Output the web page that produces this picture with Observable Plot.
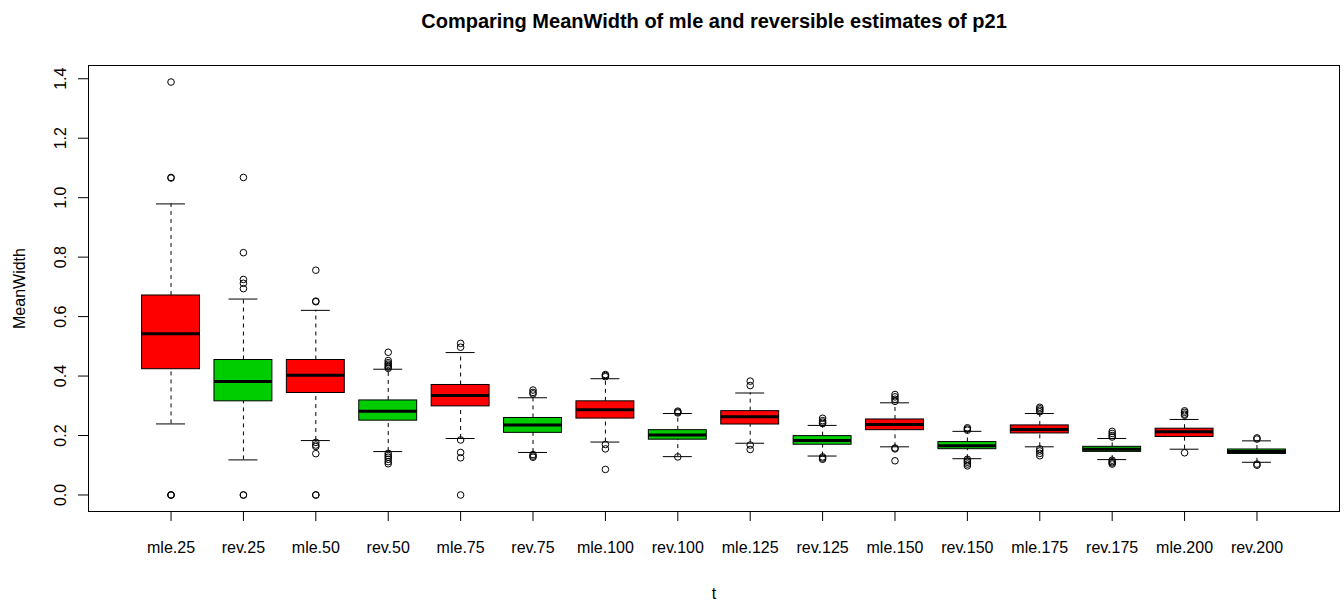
<!DOCTYPE html>
<html>
<head>
<meta charset="utf-8">
<script src="https://cdn.jsdelivr.net/npm/d3@7"></script>
<script src="https://cdn.jsdelivr.net/npm/@observablehq/plot@0.6"></script>
<style>
  html, body { margin: 0; padding: 0; background: #fff; }
</style>
</head>
<body>
<div id="chart"></div>
<script>
const title = "Comparing MeanWidth of mle and reversible estimates of p21";
const xLabel = "t";
const yLabel = "MeanWidth";
const categories = ["mle.25","rev.25","mle.50","rev.50","mle.75","rev.75","mle.100","rev.100",
                    "mle.125","rev.125","mle.150","rev.150","mle.175","rev.175","mle.200","rev.200"];
const whiskerLow  = [0.239, 0.118, 0.183, 0.146, 0.190, 0.143, 0.178, 0.129, 0.174, 0.131, 0.162, 0.122, 0.162, 0.119, 0.154, 0.110];
const q1          = [0.423, 0.315, 0.343, 0.250, 0.298, 0.209, 0.257, 0.186, 0.237, 0.169, 0.218, 0.154, 0.207, 0.145, 0.195, 0.138];
const medians     = [0.542, 0.382, 0.403, 0.282, 0.335, 0.235, 0.287, 0.202, 0.263, 0.183, 0.237, 0.166, 0.220, 0.154, 0.213, 0.146];
const q3          = [0.671, 0.454, 0.454, 0.318, 0.370, 0.259, 0.315, 0.218, 0.282, 0.198, 0.254, 0.178, 0.234, 0.162, 0.223, 0.153];
const whiskerHigh = [0.979, 0.659, 0.621, 0.423, 0.479, 0.327, 0.391, 0.274, 0.343, 0.234, 0.310, 0.214, 0.274, 0.190, 0.254, 0.182];
const outliers = [
  [1.389, 1.068, 1.066, 0, 0, 0],
  [1.068, 0.815, 0.725, 0.712, 0.694, 0, 0],
  [0.756, 0.652, 0.650, 0.177, 0.168, 0.163, 0.139, 0, 0],
  [0.480, 0.452, 0.445, 0.440, 0.435, 0.430, 0.426, 0.140, 0.133, 0.127, 0.120, 0.112, 0.105],
  [0.510, 0.497, 0.185, 0.143, 0.125, 0],
  [0.353, 0.345, 0.340, 0.136, 0.131, 0.127],
  [0.405, 0.402, 0.398, 0.170, 0.155, 0.086],
  [0.282, 0.279, 0.276, 0.128],
  [0.383, 0.368, 0.168, 0.153],
  [0.258, 0.250, 0.245, 0.240, 0.128, 0.124, 0.120],
  [0.338, 0.330, 0.322, 0.315, 0.158, 0.155, 0.115],
  [0.226, 0.222, 0.218, 0.120, 0.115, 0.110, 0.104, 0.098],
  [0.295, 0.290, 0.285, 0.280, 0.155, 0.148, 0.140, 0.132],
  [0.214, 0.207, 0.200, 0.195, 0.117, 0.112, 0.108, 0.104],
  [0.283, 0.278, 0.272, 0.268, 0.142],
  [0.192, 0.188, 0.104, 0.100]
];
const yTicks = [0, 0.2, 0.4, 0.6, 0.8, 1.0, 1.2, 1.4];
const methods = ["mle", "rev"];

const boxes = categories.map((c, i) => ({
  cat: c, idx: i + 1, method: c.split(".")[0],
  lo: whiskerLow[i], q1: q1[i], med: medians[i], q3: q3[i], hi: whiskerHigh[i]
}));
const pts = categories.flatMap((c, i) => outliers[i].map(v => ({idx: i + 1, v})));

const n = categories.length;
const xPad = 0.04 * n;
const allVals = [...whiskerLow, ...whiskerHigh, ...outliers.flat()];
const yMin = d3.min(allVals), yMax = d3.max(allVals);
const yPad = 0.04 * (yMax - yMin);
const boxHalf = 0.4, capHalf = 0.2;

const chart = Plot.plot({
  width: 1344, height: 603,
  marginTop: 65, marginLeft: 88, marginRight: 5, marginBottom: 92,
  style: {fontFamily: "'Liberation Sans', Arial, sans-serif", fontSize: "16px", color: "#000", background: "#fff"},
  x: {type: "linear", domain: [0.5 - xPad, n + 0.5 + xPad]},
  y: {domain: [yMin - yPad, yMax + yPad]},
  color: {domain: methods, range: ["#FF0000", "#00CD00"]},
  marks: [
    Plot.ruleX(boxes, {x: "idx", y1: "lo", y2: "q1", stroke: "#000", strokeDasharray: "4,4"}),
    Plot.ruleX(boxes, {x: "idx", y1: "q3", y2: "hi", stroke: "#000", strokeDasharray: "4,4"}),
    Plot.ruleY(boxes, {y: "lo", x1: d => d.idx - capHalf, x2: d => d.idx + capHalf, stroke: "#000"}),
    Plot.ruleY(boxes, {y: "hi", x1: d => d.idx - capHalf, x2: d => d.idx + capHalf, stroke: "#000"}),
    Plot.rect(boxes, {x1: d => d.idx - boxHalf, x2: d => d.idx + boxHalf, y1: "q1", y2: "q3",
      fill: "method", stroke: "#000", strokeWidth: 1}),
    Plot.ruleY(boxes, {y: "med", x1: d => d.idx - boxHalf, x2: d => d.idx + boxHalf, stroke: "#000", strokeWidth: 3}),
    Plot.dot(pts, {x: "idx", y: "v", r: 3.3, stroke: "#000", strokeWidth: 1, fill: "none"}),
    Plot.frame({stroke: "#000", strokeWidth: 1}),
    Plot.axisX({ticks: d3.range(1, n + 1), tickFormat: i => categories[i - 1], tickSize: 10, tickPadding: 20, label: null, fontSize: 16}),
    Plot.axisY({ticks: yTicks, tickFormat: () => "", tickSize: 10, label: null}),
    Plot.text(yTicks, {y: d => d, text: d => d3.format(".1f")(d), frameAnchor: "left", rotate: -90, dx: -28, textAnchor: "middle", fontSize: 16}),
    Plot.text([yLabel], {text: d => d, frameAnchor: "left", rotate: -90, dx: -69, textAnchor: "middle", fontSize: 16}),
    Plot.text([xLabel], {text: d => d, frameAnchor: "bottom", dy: 87, fontSize: 16}),
    Plot.text([title], {text: d => d, frameAnchor: "top", dy: -52, fontSize: 20, fontWeight: "bold"})
  ]
});
document.getElementById("chart").appendChild(chart);
</script>
</body>
</html>
